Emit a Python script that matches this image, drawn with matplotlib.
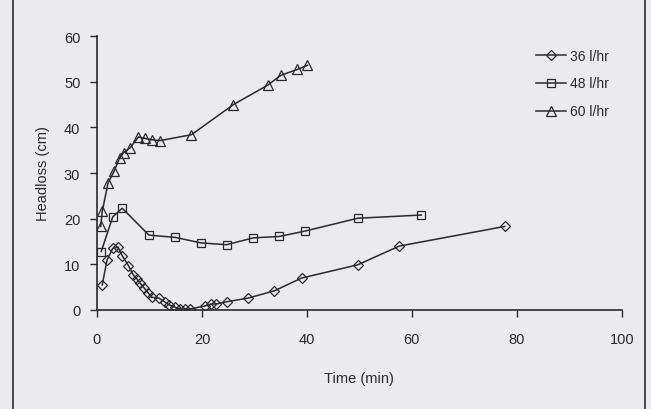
import matplotlib.pyplot as plt
from matplotlib.patches import Rectangle

# ── Data ─────────────────────────────────────────────────────────────
t36 = [1.0, 1.9, 3.0, 4.0, 4.8, 6.0, 6.9, 7.6, 8.2, 9.0, 9.8, 10.4, 11.8,
       13.0, 13.8, 14.9, 15.8, 16.8, 17.7, 20.6, 21.7, 22.7, 24.7, 28.8,
       33.8, 39.0, 49.7, 57.6, 77.7]
h36 = [5.5, 10.9, 13.5, 13.8, 11.9, 9.7, 7.7, 6.8, 5.9, 4.8, 3.7, 2.8, 2.6,
       1.7, 1.1, 0.6, 0.2, 0.2, 0.2, 0.9, 1.3, 1.3, 1.8, 2.6,
       4.2, 7.0, 9.9, 14.0, 18.3]

t48 = [0.8, 3.0, 4.8, 9.9, 14.9, 19.8, 24.7, 29.8, 34.7, 39.7, 49.7, 61.8]
h48 = [12.8, 20.4, 22.3, 16.4, 15.9, 14.7, 14.3, 15.8, 16.1, 17.3, 20.1, 20.8]

t60 = [0.7, 1.0, 2.1, 3.3, 4.3, 5.1, 6.3, 7.9, 9.1, 10.4, 12.0, 18.0, 26.0,
       32.6, 35.0, 38.2, 40.1]
h60 = [18.3, 21.6, 27.8, 30.5, 33.3, 34.5, 35.5, 37.9, 37.6, 37.3, 37.1,
       38.4, 45.0, 49.3, 51.4, 52.7, 53.6]

labels = ["36 l/hr", "48 l/hr", "60 l/hr"]

BG = "#ebebef"
INK = "#2a2a2e"

plt.rcParams["font.family"] = ["Liberation Sans", "DejaVu Sans"]

fig = plt.figure(figsize=(6.51, 4.10), dpi=100, facecolor=BG)
ax = fig.add_axes([0.149, 0.2415, 0.806, 0.668], facecolor=BG)

# outer frame of the scanned figure
fig.patches.append(Rectangle((0.02, -0.01), 0.971, 1.02, transform=fig.transFigure,
                             fill=False, edgecolor=INK, linewidth=1.2))

common = dict(color=INK, lw=1.1, mfc="none", mec=INK, mew=0.9)
ax.plot(t36, h36, marker="D", ms=5, label=labels[0], **common)
ax.plot(t48, h48, marker="s", ms=6, label=labels[1], **common)
ax.plot(t60, h60, marker="^", ms=7, label=labels[2], **common)

ax.set_xlim(0, 100)
ax.set_ylim(0, 60)
ax.set_xticks(range(0, 101, 20))
ax.set_yticks(range(0, 61, 10))
ax.tick_params(colors=INK, labelsize=10.5, length=5, width=1, direction="out")
ax.tick_params(axis="x", pad=11)
ax.tick_params(axis="y", pad=7)
for s in ("top", "right"):
    ax.spines[s].set_visible(False)
for s in ("left", "bottom"):
    ax.spines[s].set_color(INK)
    ax.spines[s].set_linewidth(1.2)

ax.set_xlabel("Time (min)", fontsize=10.5, color=INK, labelpad=18)
ax.set_ylabel("Headloss (cm)", fontsize=10.5, color=INK, labelpad=10)

ax.legend(loc="upper right", bbox_to_anchor=(1.0, 1.0), frameon=False,
          fontsize=10, handlelength=2.2, labelspacing=1.0, handletextpad=0.3,
          labelcolor=INK)

fig.savefig("out.png", dpi=100, facecolor=BG)
